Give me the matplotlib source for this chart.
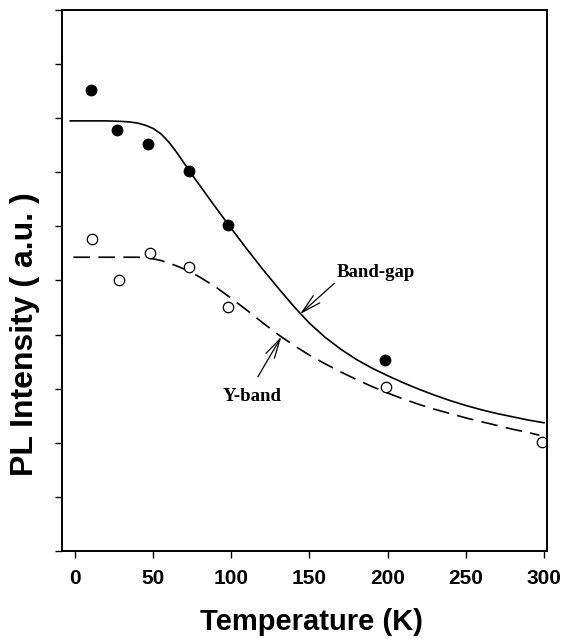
import numpy as np
import matplotlib.pyplot as plt

# measured PL intensities (a.u.)
t_gap = [10, 27, 47, 73, 98, 198]
i_gap = [8.52, 7.78, 7.52, 7.02, 6.03, 3.53]

t_yband = [11, 28, 48, 73, 98, 199, 299]
i_yband = [5.77, 5.01, 5.51, 5.25, 4.51, 3.03, 2.01]

# fitted curves
fit_t = [-3, 0, 10, 20, 30, 35, 40, 45, 50, 55, 60, 65, 70, 75, 80, 85, 90,
         100, 110, 120, 130, 140, 150, 160, 170, 180, 190, 200, 210, 220,
         230, 240, 250, 260, 270, 280, 290, 300]
fit_gap = [7.95, 7.95, 7.95, 7.95, 7.94, 7.93, 7.91, 7.87, 7.81, 7.71, 7.56,
           7.37, 7.16, 6.95, 6.75, 6.55, 6.35, 5.96, 5.58, 5.21, 4.86, 4.52,
           4.21, 3.95, 3.73, 3.54, 3.38, 3.24, 3.11, 2.99, 2.88, 2.78, 2.69,
           2.61, 2.54, 2.48, 2.42, 2.37]
fit_t2 = [-1, 0, 10, 20, 30, 40, 45, 50, 55, 60, 65, 70, 75, 80, 90, 100,
          110, 120, 130, 140, 150, 160, 170, 180, 190, 200, 210, 220, 230,
          240, 250, 260, 270, 280, 290, 297]
fit_yband = [5.43, 5.43, 5.43, 5.43, 5.43, 5.43, 5.42, 5.40, 5.37, 5.32, 5.27,
             5.21, 5.14, 5.06, 4.88, 4.67, 4.45, 4.22, 4.00, 3.80, 3.62, 3.46,
             3.31, 3.17, 3.04, 2.92, 2.81, 2.71, 2.62, 2.54, 2.46, 2.39, 2.32,
             2.25, 2.19, 2.14]

xticks = [0, 50, 100, 150, 200, 250, 300]

fig = plt.figure(figsize=(5.67, 6.39), dpi=100)
ax = fig.add_axes([0.1093, 0.1377, 0.8554, 0.8467])

ax.plot(fit_t, fit_gap, color='black', lw=1.2)
ax.plot(fit_t2, fit_yband, color='black', lw=1.2, dashes=(10, 5))
ax.plot(t_gap, i_gap, 'o', color='black', ms=7.5)
ax.plot(t_yband, i_yband, 'o', mfc='white', mec='black', mew=0.9, ms=7.5)

# labels with arrows
arr = dict(arrowstyle='->,head_length=1.4,head_width=0.35', color='black',
           lw=0.9, shrinkA=0, shrinkB=0)
ax.annotate('', xy=(144, 4.38), xytext=(166, 4.95), arrowprops=arr)
ax.annotate('', xy=(132, 3.96), xytext=(117, 3.22), arrowprops=arr)
ax.text(192.5, 5.14, 'Band-gap', family='Liberation Serif', weight='bold',
        fontsize=13.5, ha='center', va='center')
ax.text(113, 2.85, 'Y-band', family='Liberation Serif', weight='bold',
        fontsize=13.5, ha='center', va='center')

ax.set_xlim(-8.3, 301.9)
ax.set_ylim(0, 10)
ax.set_xticks(xticks)
ax.set_xticklabels([str(v) for v in xticks], family='Liberation Sans',
                   weight='bold', fontsize=15)
ax.set_yticks(np.arange(0, 11, 1))
ax.set_yticklabels([])
ax.tick_params(direction='out', length=5, width=1, pad=8)

for s in ax.spines.values():
    s.set_linewidth(1.4)

ax.set_xlabel('Temperature (K)', family='Liberation Sans', weight='bold',
              fontsize=21)
ax.xaxis.set_label_coords(0.515, -0.105)
ax.set_ylabel('PL Intensity ( a.u. )', family='Liberation Sans', weight='bold',
              fontsize=23)
ax.yaxis.set_label_coords(-0.045, 0.40)

fig.savefig('out.png', dpi=100)
